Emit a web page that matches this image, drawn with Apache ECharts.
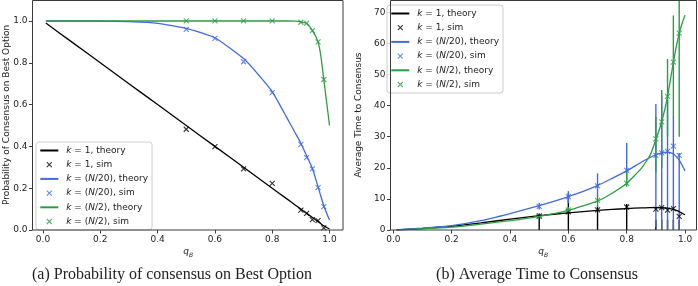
<!DOCTYPE html>
<html>
<head>
<meta charset="utf-8">
<script src="https://cdn.jsdelivr.net/npm/echarts@6/dist/echarts.min.js"></script>
<style>
  html, body { margin: 0; padding: 0; background: #fff; }
  #main { width: 698px; height: 286px; }
</style>
</head>
<body>
<div id="main"></div>
<script>
// q_B values for the theory curves and for the simulation points
var qTheory = [0.01, 0.1, 0.2, 0.3, 0.4, 0.5, 0.6, 0.7, 0.75, 0.8, 0.85, 0.88, 0.9, 0.92, 0.94, 0.96, 0.97, 0.98, 0.99, 1.0]
var qSim = [0.5, 0.6, 0.7, 0.8, 0.9, 0.92, 0.94, 0.96, 0.98]

// (a) probability of consensus on best option
var probK1Theory = [0.99, 0.9, 0.8, 0.7, 0.6, 0.5, 0.4, 0.3, 0.25, 0.2, 0.15, 0.12, 0.1, 0.08, 0.06, 0.04, 0.03, 0.02, 0.012, 0.006]
var probN20Theory = [1.0, 1.0, 1.0, 0.997, 0.989, 0.965, 0.92, 0.82, 0.746, 0.662, 0.54, 0.465, 0.415, 0.355, 0.295, 0.207, 0.16, 0.116, 0.08, 0.048]
var probN2Theory = [1.0, 1.0, 1.0, 1.0, 1.0, 1.0, 1.0, 1.0, 1.0, 1.0, 1.0, 0.999, 0.996, 0.988, 0.955, 0.9, 0.83, 0.72, 0.61, 0.5]
var probK1Sim = [0.482, 0.399, 0.292, 0.223, 0.095, 0.08, 0.05, 0.045, 0.01]
var probN20Sim = [0.96, 0.917, 0.805, 0.657, 0.41, 0.346, 0.292, 0.203, 0.112]
var probN2Sim = [1.0, 1.0, 1.0, 1.0, 0.994, 0.99, 0.954, 0.9, 0.72]

// (b) average time to consensus
var timeK1Theory = [0.05, 0.5, 1.2, 2.3, 3.5, 4.6, 5.5, 6.3, 6.6, 6.9, 7.1, 7.2, 7.2, 7.15, 7.0, 6.6, 6.3, 5.9, 5.4, 4.9]
var timeN20Theory = [0.05, 0.6, 1.4, 3.0, 5.3, 7.8, 10.7, 14.3, 16.6, 19.0, 21.8, 23.3, 24.2, 24.8, 25.0, 24.5, 23.6, 22.5, 20.8, 19.0]
var timeN2Theory = [0.03, 0.4, 0.9, 1.9, 3.0, 4.4, 6.3, 9.3, 11.8, 15.0, 19.8, 24.0, 29.0, 34.8, 42.9, 54.0, 59.0, 63.2, 66.5, 69.1]
var timeK1Sim = [4.5, 5.8, 6.5, 7.4, 6.7, 7.2, 6.4, 6.9, 4.4]
var timeN20Sim = [7.6, 10.7, 14.2, 19.2, 24.0, 24.8, 25.3, 27.0, 24.0]
var timeN2Sim = [4.4, 6.4, 9.5, 15.0, 29.3, 34.8, 43.0, 54.0, 63.3]
// error bar ends (low / high)
var timeK1Low = [0, 0, 0, 0, 0, 0, 0, 0, 0]
var timeK1High = [5.3, 11.8, 7.6, 8.4, 3.3, 3.3, 3.3, 3.3, 3.3]
var timeN20Low = [6.6, 8.6, 10.8, 16.0, 1.0, 0, 0, 0, 0]
var timeN20High = [8.8, 12.5, 18.2, 28.0, 40.5, 43.0, 42.0, 36.2, 24.8]
var timeN2Low = [4.0, 5.6, 7.4, 13.9, 18.4, 20.0, 30.0, 36.0, 30.0]
var timeN2High = [4.9, 7.4, 11.3, 18.7, 36.4, 45.0, 55.0, 69.0, 97.0]

// ticks and text
var xTicks = [0, 0.2, 0.4, 0.6, 0.8, 1.0]
var probTicks = [0, 0.2, 0.4, 0.6, 0.8, 1.0]
var timeTicks = [0, 10, 20, 30, 40, 50, 60, 70]
var legendNames = ['k = 1, theory', 'k = 1, sim', 'k = (N/20), theory', 'k = (N/20), sim', 'k = (N/2), theory', 'k = (N/2), sim']
var yTitles = ['Probability of Consensus on Best Option', 'Average Time to Consensus']
var captions = ['(a) Probability of consensus on Best Option', '(b) Average Time to Consensus']

var FONT = 'DejaVu Sans'
var BLACK = '#000000'
var BLUE = '#4169e1'
var GREEN = '#2a9d45'
var SPINE = '#3a3a3a'
var CROSS = 'path://M0,0L10,10M10,0L0,10'
var colors = [BLACK, BLACK, BLUE, BLUE, GREEN, GREEN]

function pairs(xs, ys) {
  return xs.map(function (x, i) { return [x, ys[i]] })
}
function triples(xs, lo, hi) {
  return xs.map(function (x, i) { return [x, lo[i], hi[i]] })
}

// frame is drawn as a graphic rect, so the axis line is hidden and kept off zero
function axisFor(gi, min, max, ticks, digits) {
  return {
    gridIndex: gi, type: 'value', min: min, max: max,
    axisLine: { show: false, onZero: false },
    splitLine: { show: false },
    axisTick: { show: true, length: 3.5, customValues: ticks, lineStyle: { color: SPINE, width: 1 } },
    axisLabel: {
      customValues: ticks, margin: 5, fontSize: 9, fontFamily: FONT, color: '#222',
      hideOverlap: false,
      formatter: function (v) { return Number(v).toFixed(digits) }
    }
  }
}

function theory(name, data, color, gi) {
  return {
    name: name, type: 'line', xAxisIndex: gi, yAxisIndex: gi, data: data,
    symbol: 'none', smooth: 0.15, silent: true,
    lineStyle: { color: color, width: 1.3 }, itemStyle: { color: color }
  }
}

function sim(name, data, color, gi) {
  return {
    name: name, type: 'scatter', xAxisIndex: gi, yAxisIndex: gi, data: data,
    symbol: CROSS, symbolSize: 5, symbolKeepAspect: true, silent: true,
    itemStyle: { color: 'rgba(0,0,0,0)', borderColor: color, borderWidth: 1.1 }
  }
}

function errorBars(data, color, gi) {
  return {
    type: 'custom', xAxisIndex: gi, yAxisIndex: gi, data: data, silent: true,
    encode: { x: 0, y: [1, 2] },
    renderItem: function (params, api) {
      var cs = params.coordSys
      var lo = api.coord([api.value(0), api.value(1)])
      var hi = api.coord([api.value(0), api.value(2)])
      return {
        type: 'line',
        shape: { x1: lo[0], y1: Math.min(lo[1], cs.y + cs.height), x2: hi[0], y2: Math.max(hi[1], cs.y) },
        style: { stroke: color, lineWidth: 1.4 }
      }
    }
  }
}

function legendFor(left, top) {
  return {
    orient: 'vertical', left: left, top: top, selectedMode: false,
    data: legendNames.map(function (n, i) {
      if (i % 2 === 1) {
        return { name: n, icon: CROSS,
          itemStyle: { color: 'rgba(0,0,0,0)', borderColor: colors[i], borderWidth: 1.1 } }
      }
      // line only, hide the marker dot that the line icon adds
      return { name: n, itemStyle: { color: 'rgba(0,0,0,0)', borderWidth: 0, opacity: 0 } }
    }),
    itemWidth: 18, itemHeight: 5, itemGap: 3.2,
    padding: [3, 4, 3, 3.3],
    backgroundColor: 'rgba(255,255,255,0.8)',
    borderColor: '#cccccc', borderWidth: 1, borderRadius: 3,
    formatter: function (n) { return n.replace('k', '{i|k}').replace('N', '{i|N}') },
    textStyle: {
      fontSize: 9, fontFamily: FONT, color: '#222', lineHeight: 11, padding: [0, 0, 0, 3],
      rich: { i: { fontStyle: 'italic', fontSize: 9, fontFamily: FONT, color: '#222', lineHeight: 11 } }
    }
  }
}

function txt(x, y, text, font, rotation) {
  return { type: 'text', silent: true, x: x, y: y, rotation: rotation || 0,
    style: { text: text, font: font, fill: '#222', align: 'center', verticalAlign: 'middle' } }
}

var chart = echarts.init(document.getElementById('main'), null, { renderer: 'canvas' })

var option = {
  animation: false,
  backgroundColor: '#ffffff',
  grid: [
    { left: 32.5, top: 0.5, width: 310.5, height: 229.5 },
    { left: 390.5, top: 0.5, width: 306, height: 229.5 }
  ],
  xAxis: [
    axisFor(0, -0.0365, 1.047, xTicks, 1),
    axisFor(1, -0.0098, 1.0393, xTicks, 1)
  ],
  yAxis: [
    axisFor(0, 0, 1.098, probTicks, 1),
    axisFor(1, 0, 73.8, timeTicks, 0)
  ],
  legend: [legendFor(36, 142), legendFor(387, 5)],
  series: [
    theory(legendNames[0], pairs(qTheory, probK1Theory), BLACK, 0),
    sim(legendNames[1], pairs(qSim, probK1Sim), BLACK, 0),
    theory(legendNames[2], pairs(qTheory, probN20Theory), BLUE, 0),
    sim(legendNames[3], pairs(qSim, probN20Sim), BLUE, 0),
    theory(legendNames[4], pairs(qTheory, probN2Theory), GREEN, 0),
    sim(legendNames[5], pairs(qSim, probN2Sim), GREEN, 0),

    theory(legendNames[0], pairs(qTheory, timeK1Theory), BLACK, 1),
    errorBars(triples(qSim, timeK1Low, timeK1High), BLACK, 1),
    sim(legendNames[1], pairs(qSim, timeK1Sim), BLACK, 1),
    theory(legendNames[2], pairs(qTheory, timeN20Theory), BLUE, 1),
    errorBars(triples(qSim, timeN20Low, timeN20High), BLUE, 1),
    sim(legendNames[3], pairs(qSim, timeN20Sim), BLUE, 1),
    theory(legendNames[4], pairs(qTheory, timeN2Theory), GREEN, 1),
    errorBars(triples(qSim, timeN2Low, timeN2High), GREEN, 1),
    sim(legendNames[5], pairs(qSim, timeN2Sim), GREEN, 1)
  ],
  graphic: [
    { type: 'rect', silent: true, z: 100, shape: { x: 32.5, y: 0.5, width: 310.5, height: 229.5 },
      style: { fill: 'none', stroke: SPINE, lineWidth: 1 } },
    { type: 'rect', silent: true, z: 100, shape: { x: 390.5, y: 0.5, width: 306, height: 229.5 },
      style: { fill: 'none', stroke: SPINE, lineWidth: 1 } },
    txt(7, 115, yTitles[0], '9px "DejaVu Sans"', Math.PI / 2),
    txt(359, 115, yTitles[1], '9px "DejaVu Sans"', Math.PI / 2),
    txt(186, 252, 'q', 'italic 9px "DejaVu Sans"'),
    txt(191, 255, 'B', 'italic 6px "DejaVu Sans"'),
    txt(541, 252, 'q', 'italic 9px "DejaVu Sans"'),
    txt(546, 255, 'B', 'italic 6px "DejaVu Sans"'),
    txt(172, 275, captions[0], '16px "Liberation Serif"'),
    txt(537, 275, captions[1], '16px "Liberation Serif"')
  ]
}

chart.setOption(option)
</script>
</body>
</html>
